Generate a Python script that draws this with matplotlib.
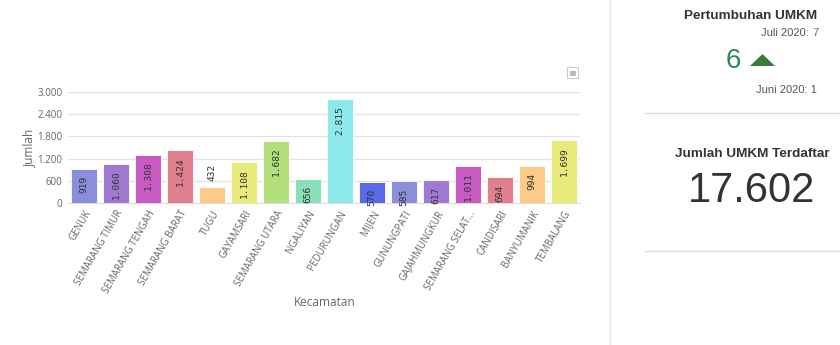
import matplotlib.pyplot as plt
from matplotlib.patches import Rectangle, Polygon
from matplotlib.lines import Line2D
from matplotlib.ticker import FuncFormatter

kecamatan = ['GENUK', 'SEMARANG TIMUR', 'SEMARANG TENGAH', 'SEMARANG BARAT', 'TUGU',
             'GAYAMSARI', 'SEMARANG UTARA', 'NGALIYAN', 'PEDURUNGAN', 'MIJEN',
             'GUNUNGPATI', 'GAJAHMUNGKUR', 'SEMARANG SELAT...', 'CANDISARI',
             'BANYUMANIK', 'TEMBALANG']
jumlah = [919, 1060, 1308, 1424, 432, 1108, 1682, 656, 2815, 570, 585, 617, 1011, 694, 994, 1699]
colors = ['#8a8fd9', '#a07ad2', '#c75bc3', '#e0808f', '#fccb88', '#e8ea7a', '#b3e07a',
          '#88e0b8', '#8ee9ec', '#5b68e8', '#8a8fd9', '#a07ad2', '#c75bc3', '#e0808f',
          '#fccb88', '#e8ea7a']
yticks = [0, 600, 1200, 1800, 2400, 3000]

juli = 7
juni = 1
total = 17602


def fmt(v):
    return f'{int(v):,}'.replace(',', '.')


def main():
    plt.rcParams['font.family'] = ['Open Sans', 'DejaVu Sans']
    fig = plt.figure(figsize=(8.4, 3.45), dpi=100)
    W, H = 840, 345
    ax = fig.add_axes([68 / W, 1 - 203 / H, 512 / W, 111 / H])

    x = range(len(kecamatan))
    ax.bar(x, jumlah, width=0.8, color=colors, edgecolor='white', linewidth=0.6, zorder=3)
    for i, v in enumerate(jumlah):
        # labels read bottom-to-top, inside the bar when it fits
        if v >= 500:
            ax.annotate(fmt(v), (i, v), xytext=(0, -5), textcoords='offset points',
                        rotation=90, ha='center', va='top', fontsize=6.8,
                        family='DejaVu Sans Mono', color='#333333')
        else:
            ax.annotate(fmt(v), (i, v), xytext=(0, 4), textcoords='offset points',
                        rotation=90, ha='center', va='bottom', fontsize=6.8,
                        family='DejaVu Sans Mono', color='#333333')

    ax.set_xlim(-0.5, len(kecamatan) - 0.5)
    ax.set_ylim(0, 3000)
    ax.set_yticks(yticks)
    ax.yaxis.set_major_formatter(FuncFormatter(lambda v, p: fmt(v)))
    ax.set_xticks(list(x))
    ax.set_xticklabels(kecamatan, rotation=60, ha='right', rotation_mode='anchor')
    ax.tick_params(axis='both', length=0, labelsize=7, colors='#666666', pad=4)
    ax.grid(axis='y', color='#e3e3e3', linewidth=0.9, zorder=0)
    for s in ['top', 'right', 'left']:
        ax.spines[s].set_visible(False)
    ax.spines['bottom'].set_color('#dddddd')
    ax.set_ylabel('Jumlah', fontsize=8.5, color='#666666', labelpad=1)
    fig.text(325 / W, 1 - 302 / H, 'Kecamatan', fontsize=8.5, color='#666666',
             ha='center', va='center')

    # menu button
    fig.add_artist(Rectangle((567 / W, 1 - 78 / H), 11 / W, 11 / H, transform=fig.transFigure,
                             facecolor='white', edgecolor='#cccccc', linewidth=0.8))
    fig.add_artist(Rectangle((569.5 / W, 1 - 75.5 / H), 6 / W, 5 / H, transform=fig.transFigure,
                             facecolor='#bbbbbb', edgecolor='none'))

    # separators
    fig.add_artist(Line2D([610 / W, 610 / W], [0, 1], transform=fig.transFigure,
                          color='#e6e6e6', linewidth=1))
    fig.add_artist(Line2D([645 / W, 1], [1 - 113 / H, 1 - 113 / H], transform=fig.transFigure,
                          color='#dddddd', linewidth=1))
    fig.add_artist(Line2D([645 / W, 1], [1 - 251 / H, 1 - 251 / H], transform=fig.transFigure,
                          color='#dddddd', linewidth=1))

    # right panel
    sans = ['Liberation Sans', 'DejaVu Sans']
    fig.text(817 / W, 1 - 16 / H, 'Pertumbuhan UMKM', fontsize=9.7, fontweight='bold',
             color='#333333', ha='right', va='center', family=sans)
    fig.text(812 / W, 1 - 33 / H, 'Juli 2020: ', fontsize=8, color='#555555',
             ha='right', va='center', family=sans)
    fig.text(812 / W, 1 - 33 / H, str(juli), fontsize=8, color='#2a8a6a',
             ha='left', va='center', family=sans)
    fig.text(733 / W, 1 - 61 / H, str(juli - juni), fontsize=20, color='#2a8a5a',
             ha='center', va='center', family=sans)
    fig.add_artist(Polygon([[750 / W, 1 - 66 / H], [775 / W, 1 - 66 / H], [762.5 / W, 1 - 54 / H]],
                           closed=True, transform=fig.transFigure, facecolor='#3b7a3b',
                           edgecolor='none'))
    fig.text(817 / W, 1 - 90 / H, f'Juni 2020: {juni}', fontsize=8, color='#555555',
             ha='right', va='center', family=sans)
    fig.text(752 / W, 1 - 154 / H, 'Jumlah UMKM Terdaftar', fontsize=9.7, fontweight='bold',
             color='#333333', ha='center', va='center', family=sans)
    fig.text(752 / W, 1 - 191 / H, fmt(total), fontsize=30, color='#333333',
             ha='center', va='center', family=sans)

    fig.savefig('out.png', dpi=100)


if __name__ == '__main__':
    main()
